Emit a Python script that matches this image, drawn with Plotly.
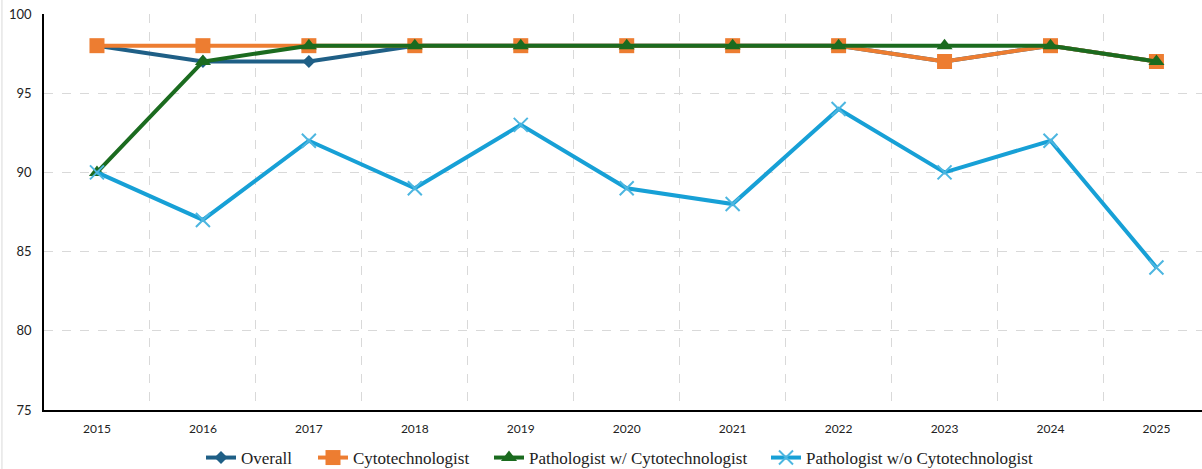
import plotly.graph_objects as go

years = [2015, 2016, 2017, 2018, 2019, 2020, 2021, 2022, 2023, 2024, 2025]
year_labels = [str(y) for y in years]
overall = [98, 97, 97, 98, 98, 98, 98, 98, 97, 98, 97]
cytotech = [98, 98, 98, 98, 98, 98, 98, 98, 97, 98, 97]
path_with = [90, 97, 98, 98, 98, 98, 98, 98, 98, 98, 97]
path_without = [90, 87, 92, 89, 93, 89, 88, 94, 90, 92, 84]
y_ticks = [75, 80, 85, 90, 95, 100]

W, H = 1202, 469

fig = go.Figure()
fig.add_trace(go.Scatter(x=years, y=overall, name="Overall", mode="lines+markers", legend="legend",
                         line=dict(color="#1F5F86", width=4),
                         marker=dict(symbol="diamond", size=10, color="#1F5F86")))
fig.add_trace(go.Scatter(x=years, y=cytotech, name="Cytotechnologist", mode="lines+markers", legend="legend2",
                         line=dict(color="#ED7D31", width=4),
                         marker=dict(symbol="square", size=15, color="#ED7D31")))
fig.add_trace(go.Scatter(x=years, y=path_with, name="Pathologist w/ Cytotechnologist", mode="lines+markers",
                         legend="legend3",
                         line=dict(color="#1B6B1F", width=4),
                         marker=dict(symbol="triangle-up", size=14, color="#1B6B1F")))
fig.add_trace(go.Scatter(x=years, y=path_without, name="Pathologist w/o Cytotechnologist", mode="lines+markers",
                         legend="legend4",
                         line=dict(color="#17A0D6", width=4),
                         marker=dict(symbol="x-thin", size=14, color="#17A0D6",
                                     line=dict(color="#4DB6E0", width=2))))

boundaries = [y + 0.5 for y in years[:-1]]


def leg(px):
    return dict(orientation="h", x=(px - 6) / W, xanchor="left", xref="container",
                y=1 - 458 / H, yanchor="middle", yref="container",
                font=dict(family="Liberation Serif", size=17, color="#222222"),
                itemwidth=30, tracegroupgap=0, bgcolor="rgba(0,0,0,0)")


fig.update_layout(
    width=W, height=H,
    margin=dict(l=44, r=0, t=14, b=59, autoexpand=False),
    paper_bgcolor="white", plot_bgcolor="white",
    showlegend=True,
    legend=leg(207), legend2=leg(319), legend3=leg(495), legend4=leg(772),
    xaxis=dict(range=[years[0] - 0.5, years[-1] + 0.43], tickvals=years, ticktext=year_labels,
               automargin=False,
               showgrid=False, zeroline=False, showline=True, linecolor="black", linewidth=1.5,
               ticks="", ticklabelstandoff=7, tickfont=dict(family="Lato", size=12, color="#222222"),
               minor=dict(tickvals=boundaries, showgrid=True, gridcolor="#D9D9D9",
                          griddash="dash", gridwidth=1, ticks="")),
    yaxis=dict(range=[75, 100], tickvals=y_ticks, showgrid=True, gridcolor="#D9D9D9",
               automargin=False,
               griddash="dash", gridwidth=1, zeroline=False, showline=True, linecolor="black",
               linewidth=1.5, ticks="", ticklabelstandoff=8,
               tickfont=dict(family="Lato", size=13, color="#222222")),
    shapes=[dict(type="line", xref="paper", yref="paper", x0=-0.0363, x1=-0.0363, y0=-0.2, y1=1.05,
                 line=dict(color="#D9D9D9", width=1))],
)

fig.write_html("out.html", config={"displayModeBar": False},
               post_script="document.body.style.margin='0';document.body.style.padding='0';")
